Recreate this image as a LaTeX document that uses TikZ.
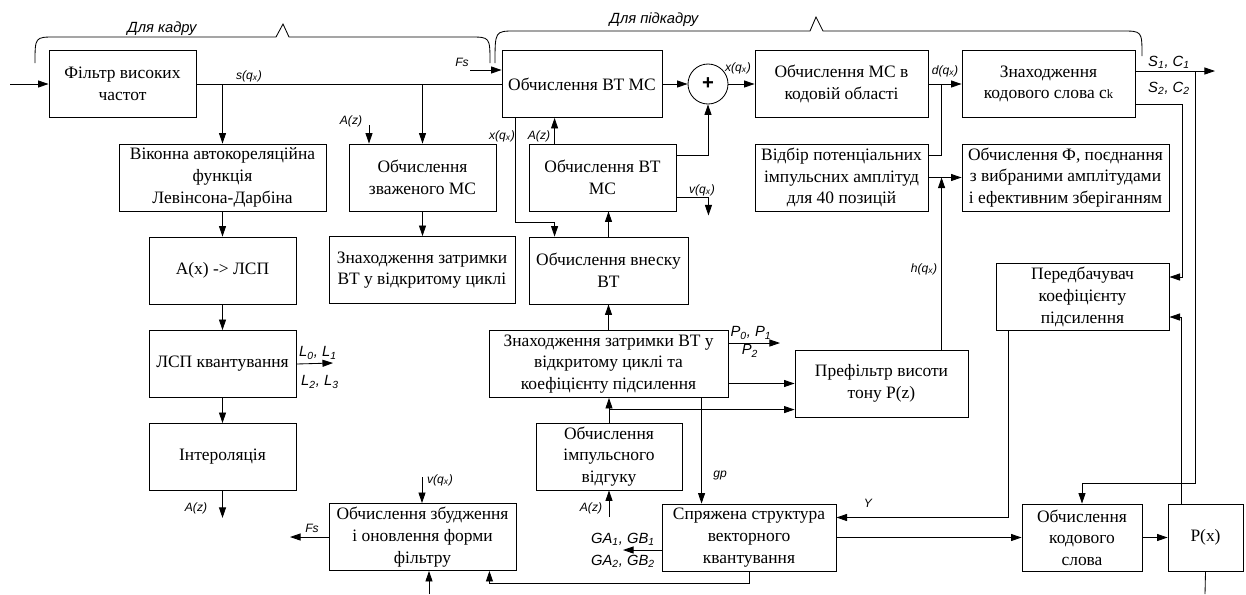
\documentclass[tikz,border=0pt]{standalone}
\usepackage{fontspec}
\setmainfont{Liberation Serif}
\setsansfont{Liberation Sans}
\usetikzlibrary{arrows.meta, calc}

\begin{document}
\begin{tikzpicture}[x=0.025cm, y=-0.025cm, line width=0.6pt,
    >={Triangle[length=7.5pt, width=5pt]},
    blk/.style={draw, align=center, minimum height=1.675cm, inner sep=1pt,
        font=\fontsize{12.4}{15.4}\selectfont},
    sig/.style={font=\sffamily\itshape\fontsize{8.6}{10}\selectfont, inner sep=0pt},
    idx/.style={font=\sffamily\itshape\fontsize{10.5}{12}\selectfont, inner sep=0pt}]
    \useasboundingbox (0,0) rectangle (1246,594);

    % Braces
    \draw (35,63) .. controls (35,37) .. (55,37) -- (276,37) -- (283,24) -- (289,37)
        -- (470,37) .. controls (490,37) .. (490,63);
    \node[idx] (lkadr) at (162,29) {Для кадру};
    \draw (495,63) .. controls (495,31) .. (515,31) -- (810,31) -- (816,17) -- (823,31)
        -- (1122,31) .. controls (1142,31) .. (1142,56);
    \node[idx] (lpidkadr) at (654,20) {Для підкадру};

    % Top row
    \node[blk, minimum width=3.675cm] (hpf) at (122.5,84) {Фільтр високих\\частот};
    \node[blk, minimum width=4cm] (btmc) at (582,84) {Обчислення ВТ МС};
    \node[draw, circle, minimum size=1cm, inner sep=0pt, font=\sffamily\bfseries\Large] (sum) at (708,84) {+};
    \node[blk, minimum width=4.325cm] (mcc) at (841.5,84) {Обчислення МС в\\кодовій області};
    \node[blk, minimum width=4.325cm] (ckw) at (1048.5,84) {Знаходження\\кодового слова c{\fontsize{9}{10}\selectfont k}};

    % Second row
    \node[blk, minimum width=5.175cm] (acf) at (222.5,177.5) {Віконна автокореляційна\\функція\\Левінсона-Дарбіна};
    \node[blk, minimum width=3.675cm] (wmc) at (422.5,177.5) {Обчислення\\зваженого МС};
    \node[blk, minimum width=3.675cm] (btmc2) at (602.5,177.5) {Обчислення ВТ\\МС};
    \node[blk, minimum width=4.325cm] (sel) at (841.5,177.5) {Відбір потенціальних\\імпульсних амплітуд\\для 40 позицій};
    \node[blk, minimum width=5.175cm] (phi) at (1065.5,177.5) {Обчислення Ф, поєднання\\з вибраними амплітудами\\і ефективним зберіганням};

    % Third row
    \node[blk, minimum width=3.675cm] (lsp) at (222.5,270.5) {A(x) -> ЛСП};
    \node[blk, minimum width=4.65cm] (oldl) at (422,270) {Знаходження затримки\\ВТ у відкритому циклі};
    \node[blk, minimum width=3.975cm] (contr) at (608.5,270.5) {Обчислення внеску\\ВТ};
    \node[blk, minimum width=4.325cm] (gpred) at (1082.5,297) {Передбачувач\\коефіцієнту\\підсилення};

    % Fourth row
    \node[blk, minimum width=3.675cm] (lspq) at (222.5,364) {ЛСП квантування};
    \node[blk, minimum width=5.975cm] (olg) at (608.5,364) {Знаходження затримки ВТ у\\відкритому циклі та\\коефіцієнту підсилення};
    \node[blk, minimum width=4.325cm] (pref) at (881.5,383.5) {Префільтр висоти\\тону P(z)};

    % Bottom rows
    \node[blk, minimum width=3.675cm] (interp) at (222.5,457) {Інтероляція};
    \node[blk, minimum width=3.65cm] (imp) at (609,456.5) {Обчислення\\імпульсного\\відгуку};
    \node[blk, minimum width=4.675cm] (exc) at (422.5,537) {Обчислення збудження\\і оновлення форми\\фільтру};
    \node[blk, minimum width=4.35cm] (vq) at (749,537.5) {Спряжена структура\\векторного\\квантування};
    \node[blk, minimum width=3cm] (cw) at (1082,537.5) {Обчислення\\кодового\\слова};
    \node[blk, minimum width=1.875cm] (px) at (1205.5,537.5) {P(x)};

    % Free ends
    \coordinate (in) at (10,84);
    \coordinate (azw) at (369,125);
    \coordinate (fsin) at (470,70);
    \coordinate (sout) at (1215,71);
    \coordinate (sdown) at (1195,71);
    \coordinate (pout) at (780,343);
    \coordinate (lout) at (333,363);
    \coordinate (azi) at (609,517);
    \coordinate (gaout) at (623,550);
    \coordinate (vqx) at (422,477);
    \coordinate (excin) at (429,594);
    \coordinate (fsout) at (290,537);
    \coordinate (pxout) at (1205,594);
    \coordinate (jimp) at ($(imp.north)+(0,-13)$);
    \coordinate (hq) at ($(pref.north west)+(147,0)$);
    \coordinate (gpt) at ($(olg.south west)+(213,0)$);
    \coordinate (azb) at ($(btmc2.north west)+(26,0)$);
    \coordinate (xq) at ($(btmc.south west)+(14,0)$);

    % Signal path, top
    \draw[->] (in) -- (hpf.west);
    \draw (hpf.east) -- (btmc.west);
    \draw[->] (hpf.east -| acf.north) -- (acf.north);
    \draw[->] (hpf.east -| wmc.north) -- (wmc.north);
    \draw[->] (azw) -- (azw |- wmc.north);
    \draw[->] (fsin) -- (fsin -| btmc.west);
    \draw[->] (btmc) -- (sum);
    \draw[->] (sum) -- (mcc);
    \draw[->] (mcc) -- (ckw);
    \draw[->] (ckw.east |- sout) -- (sout);
    \draw[->] (sdown) -- ++(0,412) -| (cw.north);
    \draw[->] ($(ckw.east)+(0,20)$) -| ($(gpred.east)+(13,-20)$) -- ($(gpred.east)+(0,-20)$);
    \draw[->] ($(px.north west)+(14,0)$) |- ($(gpred.east)+(0,20)$);
    \draw (px.south) -- (pxout);

    % Left column
    \draw[->] (acf) -- (lsp);
    \draw[->] (lsp) -- (lspq);
    \draw[->] (lspq) -- (interp);
    \draw[->] (lspq.east) -- (lout);
    \draw[->] (interp.south) -- ++(0,27);
    \draw[->] (wmc.south) -- (wmc.south |- oldl.north);

    % Middle
    \draw[->] (azb) -- (azb |- btmc.south);
    \draw[->] ($(btmc2.east)+(0,-22)$) -| (sum.south);
    \draw[->] ($(btmc2.east)+(0,20)$) -| ++(32,18);
    \draw[->] (xq) |- ($(contr.north west)+(26,-14)$) -- ($(contr.north west)+(26,0)$);
    \draw[->] (contr.north) -- (contr.north |- btmc2.south);
    \draw[->] (olg.north) -- (contr.south);
    \draw[->] (imp.north) -- (imp.north |- olg.south);
    \draw[->] (jimp) -- (jimp -| pref.west);
    \draw[->] (olg.east |- pref.west) -- (pref.west);
    \draw[->] (olg.east |- pout) -- (pout);
    \draw[->] (hq) -- (hq |- sel.east);
    \draw[->] (sel) -- (phi);
    \draw ($(sel.east)+(0,-22)$) -| (hq |- mcc.east);
    \draw[->] (gpt) -- (gpt |- vq.north);
    \draw[->] (azi) -- (imp.south);

    % Bottom
    \draw[->] (vq.west |- gaout) -- (gaout);
    \draw[->] (vq) -- (cw);
    \draw[->] (cw) -- (px);
    \draw[->] ($(gpred.south west)+(13,0)$) |- ($(vq.east)+(0,-20)$);
    \draw[->] (vq.south) -- ++(0,12) -| ($(exc.south east)+(-27,0)$);
    \draw[->] (vqx) -- (vqx |- exc.north);
    \draw[->] (excin) -- (excin |- exc.south);
    \draw[->] (exc.west) -- (fsout);

    % Signal labels
    \node[sig] (lsq) at (249,76) {s(q\textsubscript{x})};
    \node[sig] (lazw) at (351,121) {A(z)};
    \node[sig] (lfsin) at (462,62) {Fs};
    \node[sig] (lxsum) at (738,68) {x(q\textsubscript{x})};
    \node[sig] (ldq) at (945,71) {d(q\textsubscript{x})};
    \node[idx] (ls1) at (1169,62) {S\textsubscript{1}, C\textsubscript{1}};
    \node[idx] (ls2) at (1169,88) {S\textsubscript{2}, C\textsubscript{2}};
    \node[sig] (lxq) at (502,136) {x(q\textsubscript{x})};
    \node[sig] (lazb) at (539,136) {A(z)};
    \node[sig] (lvq) at (702,190) {v(q\textsubscript{x})};
    \node[sig] (lhq) at (924,269) {h(q\textsubscript{x})};
    \node[idx] (lp1) at (751,333) {P\textsubscript{0}, P\textsubscript{1}};
    \node[idx] (lp2) at (750,351) {P\textsubscript{2}};
    \node[idx] (ll1) at (318,353) {L\textsubscript{0}, L\textsubscript{1}};
    \node[idx] (ll2) at (320,382) {L\textsubscript{2}, L\textsubscript{3}};
    \node[sig] (lazi) at (196,508) {A(z)};
    \node[sig] (lgp) at (720,475) {gp};
    \node[sig] (lazimp) at (591,508) {A(z)};
    \node[sig] (ly) at (868,503) {Y};
    \node[idx] (lga1) at (623,539) {GA\textsubscript{1}, GB\textsubscript{1}};
    \node[idx] (lga2) at (623,561) {GA\textsubscript{2}, GB\textsubscript{2}};
    \node[sig] (lvqx) at (440,480) {v(q\textsubscript{x})};
    \node[sig] (lfsout) at (312,528) {Fs};
\end{tikzpicture}
\end{document}
